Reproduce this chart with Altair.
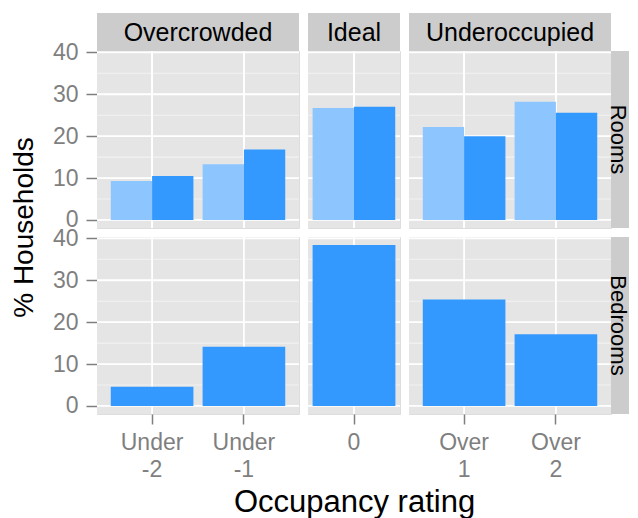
import altair as alt
import pandas as pd

# ---- data ----
groups = ["Overcrowded", "Ideal", "Underoccupied"]
group_of = ["Overcrowded", "Overcrowded", "Ideal", "Underoccupied", "Underoccupied"]
categories = ["Under\n-2", "Under\n-1", "0", "Over\n1", "Over\n2"]
measures = ["Rooms", "Bedrooms"]
series = ["2001", "2011"]
rooms_2001 = [9.3, 13.3, 26.7, 22.2, 28.2]
rooms_2011 = [10.5, 16.8, 27.0, 20.0, 25.6]
bedrooms_2011 = [4.6, 14.1, 38.4, 25.4, 17.1]
y_ticks = [0, 10, 20, 30, 40]
y_minor = [5, 15, 25, 35]
y_domain = [-1.92, 40.32]

# ---- style ----
FONT = "Liberation Sans"
colors = ["#8DC6FF", "#3399FF"]
panel_w = {"Overcrowded": 202, "Ideal": 92, "Underoccupied": 202}
PANEL_H = 177
STRIP = 38
RSTRIP = 18
GREY_TXT = "#7F7F7F"

records = []
for i, c in enumerate(categories):
    records.append({"measure": "Rooms", "group": group_of[i], "cat": c, "series": "2001", "value": rooms_2001[i]})
    records.append({"measure": "Rooms", "group": group_of[i], "cat": c, "series": "2011", "value": rooms_2011[i]})
    records.append({"measure": "Bedrooms", "group": group_of[i], "cat": c, "series": "2011", "value": bedrooms_2011[i]})
df = pd.DataFrame(records)

yscale = alt.Scale(domain=y_domain, nice=False, zero=False)
color_scale = alt.Scale(domain=series, range=colors)


def y_axis(first_col, first_row):
    if not first_col:
        return None
    kw = dict(values=y_ticks, grid=False, domain=False,
              labels=True, ticks=True, tickSize=11, tickColor=GREY_TXT, tickWidth=1.5,
              labelColor=GREY_TXT, labelFontSize=23, labelFont=FONT, labelPadding=8)
    if first_row:
        kw.update(title="% Households", titleFont=FONT, titleFontSize=28, titleFontWeight="normal",
                  titleColor="black", titleAngle=270, titleAlign="center",
                  titleBaseline="alphabetic", titleX=-65, titleY=176)
    else:
        kw.update(title=None)
    return alt.Axis(**kw)


def x_axis(bottom, group):
    if not bottom:
        return None
    kw = dict(grid=False, domain=False, ticks=True, tickSize=10, tickColor=GREY_TXT, tickWidth=1.5,
              labelColor=GREY_TXT, labelFontSize=23, labelFont=FONT, labelPadding=7,
              labelAngle=0, labelLineHeight=27, labelBaseline="top",
              labelExpr="split(datum.label, '\\n')")
    if group == "Ideal":
        kw.update(title="Occupancy rating", titleFont=FONT, titleFontSize=31,
                  titleFontWeight="normal", titleColor="black", titlePadding=33)
    else:
        kw.update(title=None)
    return alt.Axis(**kw)


def panel(measure, gi):
    group = groups[gi]
    W = panel_w[group]
    d = df[(df.measure == measure) & (df.group == group)]
    cats = [c for c, g in zip(categories, group_of) if g == group]
    p_outer = 0.15 if len(cats) > 1 else 0.05
    xscale = alt.Scale(domain=cats, paddingInner=0.1, paddingOuter=p_outer)
    bottom = measure == "Bedrooms"
    xa = x_axis(bottom, group)
    ya = y_axis(gi == 0, measure == "Rooms")

    xenc = alt.X("cat:N", scale=xscale, axis=xa, sort=cats)

    bg = alt.Chart(pd.DataFrame({"label": [group]})).mark_rect(color="#E5E5E5").encode(
        x=alt.value(0), x2=alt.value(W), y=alt.value(0), y2=alt.value(PANEL_H))
    minor = alt.Chart(pd.DataFrame({"v": y_minor})).mark_rule(
        color="#F2F2F2", strokeWidth=1.1).encode(y=alt.Y("v:Q", scale=yscale, axis=ya))
    major = alt.Chart(pd.DataFrame({"v": y_ticks})).mark_rule(
        color="white", strokeWidth=1.8).encode(y=alt.Y("v:Q", scale=yscale, axis=ya))
    vgrid = alt.Chart(d).mark_rule(color="white", strokeWidth=1.8).encode(x=xenc)

    bar_enc = dict(x=xenc, y=alt.Y("value:Q", scale=yscale, axis=ya), y2=alt.datum(0),
                   color=alt.Color("series:N", scale=color_scale, legend=None))
    if measure == "Rooms":
        bar_enc["xOffset"] = alt.XOffset("series:N", sort=series,
                                          scale=alt.Scale(domain=series, paddingInner=0, paddingOuter=0))
    bars = alt.Chart(d).mark_bar().encode(**bar_enc)

    layers = [bg, minor, major, vgrid, bars]
    if measure == "Rooms":
        sd = pd.DataFrame({"label": [group]})
        layers.append(alt.Chart(sd).mark_rect(color="#CCCCCC").encode(
            x=alt.value(0), x2=alt.value(W), y=alt.value(-STRIP), y2=alt.value(0)))
        layers.append(alt.Chart(sd).mark_text(font=FONT, fontSize=25, color="black",
                                              baseline="middle", align="center").encode(
            x=alt.value(W / 2), y=alt.value(-STRIP / 2 + 1), text="label:N"))
    if gi == 2:
        sd = pd.DataFrame({"label": [measure]})
        layers.append(alt.Chart(sd).mark_rect(color="#CCCCCC").encode(
            x=alt.value(W), x2=alt.value(W + RSTRIP), y=alt.value(0), y2=alt.value(PANEL_H)))
        layers.append(alt.Chart(sd).mark_text(font=FONT, fontSize=22, color="black", angle=90,
                                              baseline="middle", align="center").encode(
            x=alt.value(W + 7), y=alt.value(PANEL_H / 2), text="label:N"))
    return alt.layer(*layers).properties(width=W, height=PANEL_H)


cells = [panel(m, gi) for m in measures for gi in range(3)]

chart = alt.concat(*cells, columns=3, spacing=9, align="each", bounds="flush").properties(
    padding={"left": 1, "top": 4, "right": 0, "bottom": 0}
).configure_view(strokeWidth=0).configure(background="white")

chart.save("out.html", embed_options={"renderer": "svg", "actions": False})
